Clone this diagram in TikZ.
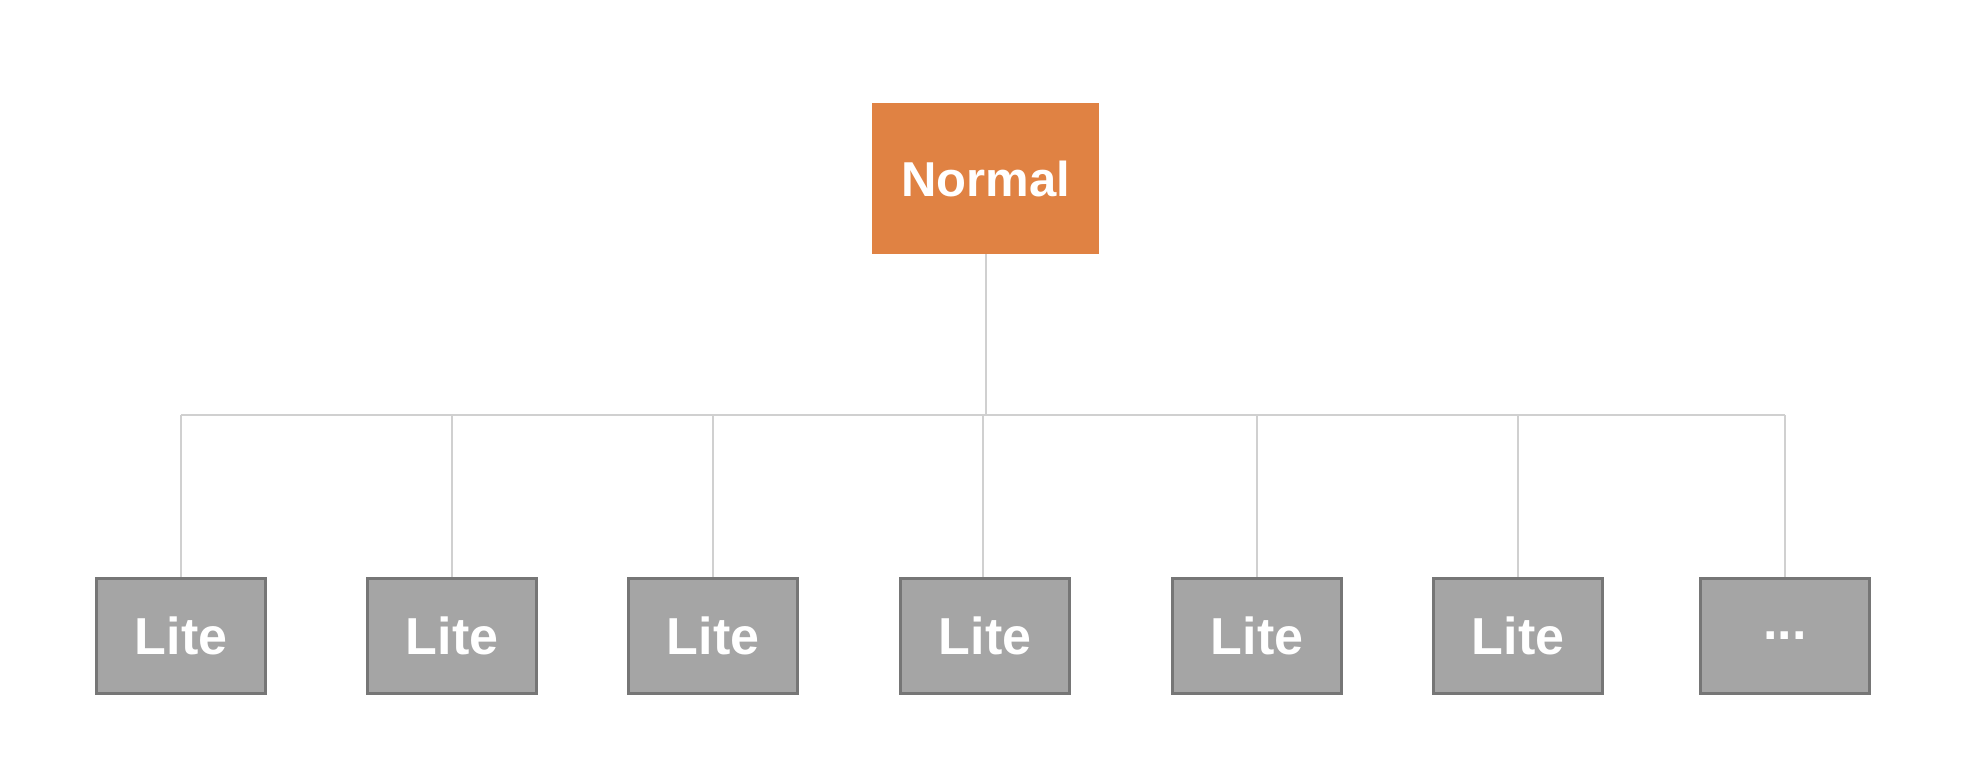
\documentclass[tikz,border=0pt]{standalone}
\usepackage{fontspec}
\setmainfont{Liberation Sans}
\definecolor{normalorange}{RGB}{224,130,67}
\definecolor{litegray}{RGB}{165,165,165}
\definecolor{liteborder}{RGB}{118,118,118}
\definecolor{linkgray}{RGB}{208,208,208}
\tikzset{
  normalbox/.style={fill=normalorange, draw=none, text=white, minimum width=113.5pt, minimum height=75.5pt,
    inner sep=0pt, font=\fontsize{24.5}{28}\selectfont\bfseries},
  litebox/.style={fill=litegray, draw=liteborder, line width=1.5pt, text=white, minimum width=84.5pt,
    minimum height=57.5pt, inner sep=0pt, font=\fontsize{26}{30}\selectfont\bfseries},
  trunk/.style={draw=linkgray, line width=1pt},
  drop/.style={draw=linkgray, line width=0.75pt}
}
\begin{document}
\begin{tikzpicture}[x=0.5pt,y=0.5pt] %Normal y sus Lite
            \useasboundingbox (0,0) rectangle (1986,780);

            \node[normalbox] (normal) at (985.5,601.5) {Normal};

            \node[litebox] (lite1) at (181,144) {Lite};
            \node[litebox] (lite2) at (452,144) {Lite};
            \node[litebox] (lite3) at (713,144) {Lite};
            \node[litebox] (lite4) at (985,144) {Lite};
            \node[litebox] (lite5) at (1257,144) {Lite};
            \node[litebox] (lite6) at (1518,144) {Lite};
            \node[litebox] (more) at (1785,144) {...};

            \coordinate (busL) at (181,365);
            \coordinate (busR) at (1785,365);

            \draw[trunk] (normal.south) -- (normal.south |- busL);
            \draw[trunk] (busL) -- (busR);

            \draw[drop] (lite1.north) -- (lite1.north |- busL);
            \draw[drop] (lite2.north) -- (lite2.north |- busL);
            \draw[drop] (lite3.north) -- (lite3.north |- busL);
            \draw[drop] ([xshift=-1pt]lite4.north) -- ([xshift=-1pt]lite4.north |- busL);
            \draw[drop] (lite5.north) -- (lite5.north |- busL);
            \draw[drop] (lite6.north) -- (lite6.north |- busL);
            \draw[drop] (more.north) -- (more.north |- busL);
        \end{tikzpicture}
\end{document}
